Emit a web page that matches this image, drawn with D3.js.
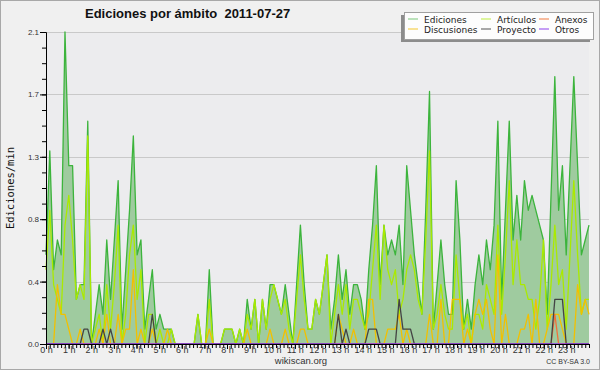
<!DOCTYPE html>
<html>
<head>
<meta charset="utf-8">
<script src="https://cdn.jsdelivr.net/npm/d3@7"></script>
<style>
  body { margin: 0; background: #fff; }
  svg text { font-family: "Liberation Sans", Arial, sans-serif; }
</style>
</head>
<body>
<div id="chart"></div>
<script>
// edits per minute, one value every 10 minutes (0 h .. 23:50)
const ediciones = [
  0.6,1.3,0.5,0.7,0.6,2.1,1.2,1.2,0.3,0.4,0.4,1.5,
  0.0,0.2,0.4,0.2,0.7,0.3,0.7,1.1,0.1,0.5,0.9,1.4,
  0.6,0.7,0.1,0.3,0.5,0.1,0.2,0.1,0.1,0.1,0,0,
  0,0,0,0,0.2,0,0,0.5,0,0,0,0.1,
  0.1,0.1,0,0.1,0,0.3,0.1,0.3,0,0.3,0.1,0.4,
  0.4,0.3,0.2,0.4,0.2,0,0.4,0.8,0.4,0.1,0.1,0.3,
  0.2,0.4,0.6,0.1,0.3,0.6,0.3,0.5,0.2,0.4,0.4,0.3,
  0.1,0.5,0.8,1.2,0.4,0.8,0.6,0.7,0.6,0.8,0.4,1.2,
  0.9,0.6,0.4,0.2,0.9,1.7,0.1,0.4,0.7,0.4,0.2,0.2,
  1.1,0.7,0.1,0.3,0.1,0.4,0.6,0.4,0.7,0.5,0.8,1.5,
  0.3,0.9,1.5,0.7,1.0,0.7,1.1,0.9,1.0,0.9,0.8,0.7,
  0.2,1.0,1.8,0.9,1.2,0.6,1.2,1.8,1.2,0.6,0.7,0.8
];
const articulos = [
  0.5,0.9,0.4,0.3,0.2,0.8,1.0,0.7,0.3,0.4,0.3,1.4,
  0.0,0.1,0.2,0.0,0.4,0.1,0.4,0.8,0.0,0.2,0.6,0.8,
  0.3,0.5,0.0,0.2,0.2,0.0,0.1,0.0,0.0,0.1,0,0,
  0,0,0,0,0.2,0,0,0.3,0,0,0,0.1,
  0.1,0.1,0,0.1,0,0.2,0.1,0.3,0,0.3,0.1,0.3,
  0.4,0.3,0.2,0.3,0.1,0,0.3,0.6,0.3,0.1,0.1,0.3,
  0.2,0.4,0.6,0.0,0.2,0.4,0.2,0.4,0.1,0.3,0.3,0.2,
  0.1,0.2,0.5,0.8,0.3,0.8,0.5,0.4,0.5,0.2,0.3,0.5,
  0.6,0.5,0.3,0.2,0.7,1.3,0.1,0.2,0.4,0.2,0.1,0.1,
  0.6,0.3,0.1,0.2,0.0,0.2,0.2,0.1,0.4,0.3,0.2,0.8,
  0.2,0.6,1.1,0.4,0.7,0.4,0.4,0.3,0.3,0.1,0.3,0.7,
  0.1,0.4,0.8,0.4,0.5,0.1,0.6,1.1,0.6,0.2,0.3,0.3
];
const discusiones = [
  0,0,0,0.4,0.2,0.2,0.1,0,0,0.1,0,0,
  0,0,0.1,0,0.2,0,0,0.2,0,0.1,0.1,0.5,
  0,0.1,0,0,0.1,0,0,0,0.1,0,0,0,
  0,0,0,0,0,0,0,0.1,0,0,0,0,
  0,0,0,0,0,0.1,0,0,0,0,0,0.1,
  0,0,0,0.1,0,0,0,0.1,0.1,0,0,0,
  0,0,0,0,0,0.2,0.1,0,0,0.1,0,0,
  0,0.3,0.3,0,0,0,0.1,0.1,0.1,0.2,0,0.1,
  0,0,0,0,0,0.2,0,0,0.3,0,0,0.3,
  0.3,0.3,0,0.1,0,0.2,0.3,0.2,0.3,0.1,0,0.6,
  0,0.2,0,0,0,0.1,0.1,0.2,0,0.3,0,0,
  0.1,0.2,0.2,0.2,0.1,0,0,0,0.4,0.2,0.3,0.2
];
const proyecto = [
  0,0,0,0,0,0,0,0,0,0,0.1,0.1,
  0,0,0,0.1,0,0.1,0,0,0,0,0,0,
  0,0,0,0,0.2,0,0,0,0,0,0,0,
  0,0,0,0,0,0,0,0,0,0,0,0,
  0,0,0,0,0,0,0,0,0,0,0,0,
  0,0,0,0,0,0,0,0,0,0,0,0,
  0,0,0,0,0,0.2,0,0.1,0,0,0,0,
  0,0.1,0.1,0.1,0,0,0,0,0,0.3,0.1,0.1,
  0.1,0,0,0,0,0,0,0,0,0,0,0,
  0,0,0,0,0,0,0,0,0,0,0,0,
  0,0,0,0,0,0,0,0,0,0,0,0,
  0,0,0.3,0.3,0.3,0,0,0,0,0,0,0
];
const anexos = [
  0,0,0,0,0,0,0,0,0,0,0,0,
  0,0,0,0,0,0,0,0,0,0,0,0,
  0,0,0,0,0,0,0,0,0,0,0,0,
  0,0,0,0,0,0,0,0,0,0,0,0,
  0,0,0,0,0,0,0,0,0,0,0,0,
  0,0,0,0,0,0,0,0,0,0,0,0,
  0,0,0,0,0,0,0,0,0,0,0,0,
  0,0,0,0,0,0,0,0,0,0,0,0,
  0,0,0,0,0,0,0,0,0,0,0,0,
  0,0,0,0,0,0,0,0,0,0,0,0,
  0,0,0,0,0,0,0,0,0,0,0,0,
  0,0,0.2,0,0,0,0,0,0,0,0,0
];
const otros = [
  0,0,0,0,0,0,0,0,0,0,0,0,
  0,0,0,0,0,0,0,0,0,0,0,0,
  0,0,0,0,0,0,0,0,0,0,0,0,
  0,0,0,0,0,0,0,0,0,0,0,0,
  0,0,0,0,0,0,0,0,0,0,0,0,
  0,0,0,0,0,0,0,0,0,0,0,0,
  0,0,0,0,0,0,0,0,0,0,0,0,
  0,0,0,0,0,0,0,0,0,0,0,0,
  0,0,0,0,0,0,0,0,0,0,0,0,
  0,0,0,0,0,0,0,0,0,0,0,0,
  0,0,0,0,0,0,0,0,0,0,0,0,
  0,0,0,0,0,0,0,0,0,0,0,0
];

const hours = d3.range(0, 24);
const yTicks = [0, 0.42, 0.84, 1.26, 1.68, 2.1];
const yTickLabels = ['0.0', '0.4', '0.8', '1.3', '1.7', '2.1'];

const series = [
  {name: 'Ediciones',   values: ediciones,   color: '#3cb43c', key: '#8fd08f'},
  {name: 'Artículos',   values: articulos,   color: '#aaea00', key: '#c8f060'},
  {name: 'Anexos',      values: anexos,      color: '#f2703a', key: '#f39060'},
  {name: 'Discusiones', values: discusiones, color: '#f2c000', key: '#f5d050'},
  {name: 'Proyecto',    values: proyecto,    color: '#444444', key: '#707070'},
  {name: 'Otros',       values: otros,       color: '#9040e8', key: '#a060f0'}
];
// lines drawn over the area in this order
const drawOrder = ['Ediciones', 'Artículos', 'Discusiones', 'Anexos', 'Proyecto', 'Otros'];

const W = 600, H = 370;
const plot = {left: 46, right: 589, top: 32, bottom: 344};

const svg = d3.select('#chart').append('svg')
  .attr('width', W)
  .attr('height', H);

svg.append('rect')
  .attr('x', 0.5).attr('y', 0.5)
  .attr('width', W - 1).attr('height', H - 1)
  .attr('fill', '#f0f0f0')
  .attr('stroke', '#a8a8a8');

svg.append('rect')
  .attr('x', plot.left).attr('y', plot.top)
  .attr('width', plot.right - plot.left).attr('height', plot.bottom - plot.top)
  .attr('fill', '#ececee');

const x = d3.scaleLinear().domain([0, ediciones.length - 1]).range([plot.left, plot.right]);
const xh = d3.scaleLinear().domain([0, 24]).range([plot.left, plot.right]);
const y = d3.scaleLinear().domain([0, 2.1]).range([plot.bottom, plot.top]);

// grid
svg.append('g')
  .selectAll('line')
  .data(yTicks.slice(1))
  .join('line')
  .attr('x1', plot.left).attr('x2', plot.right)
  .attr('y1', d => Math.round(y(d)) + 0.5).attr('y2', d => Math.round(y(d)) + 0.5)
  .attr('stroke', '#c9c9c9');

// area + lines
const area = d3.area()
  .x((d, i) => x(i))
  .y0(y(0))
  .y1(d => y(d));
svg.append('path')
  .datum(ediciones)
  .attr('d', area)
  .attr('fill', '#9fcb9f');

const line = d3.line()
  .x((d, i) => x(i))
  .y(d => y(d));
for (const name of drawOrder) {
  const s = series.find(s => s.name === name);
  svg.append('path')
    .datum(s.values)
    .attr('d', line)
    .attr('fill', 'none')
    .attr('stroke', s.color)
    .attr('stroke-width', 1.3)
    .attr('stroke-linejoin', 'round');
}

// axes
const styleAxis = g => {
  g.select('.domain').attr('stroke', '#000');
  g.selectAll('.tick line').attr('stroke', '#000');
  g.selectAll('.tick text').attr('fill', '#333').style('font-family', '"Liberation Sans", Arial, sans-serif');
};

svg.append('g')
  .attr('transform', `translate(0,${plot.bottom})`)
  .call(d3.axisBottom(xh).tickValues(d3.range(0, 24 * 6 + 1).map(d => d / 6)).tickSize(4).tickSizeOuter(0).tickFormat(''))
  .call(styleAxis);
svg.append('g')
  .attr('transform', `translate(0,${plot.bottom})`)
  .call(d3.axisBottom(xh).tickValues(hours).tickSize(5).tickSizeOuter(0).tickPadding(0).tickFormat(d => d + ' h'))
  .call(styleAxis)
  .call(g => g.selectAll('.tick text').attr('font-size', 9).attr('dy', '0.72em').attr('y', 3));

svg.append('g')
  .attr('transform', `translate(${plot.left},0)`)
  .call(d3.axisLeft(y).tickValues(d3.range(0, 21).map(d => d * 0.105)).tickSize(4).tickSizeOuter(0).tickFormat(''))
  .call(styleAxis);
svg.append('g')
  .attr('transform', `translate(${plot.left},0)`)
  .call(d3.axisLeft(y).tickValues(yTicks).tickSize(6).tickSizeOuter(0).tickPadding(1)
    .tickFormat((d, i) => yTickLabels[i]))
  .call(styleAxis)
  .call(g => g.selectAll('.tick text').attr('font-size', 8));

// titles
svg.append('text')
  .attr('x', 85).attr('y', 18)
  .attr('font-size', 13)
  .attr('font-weight', 'bold')
  .attr('fill', '#111')
  .style('white-space', 'pre')
  .text('Ediciones por ámbito  2011-07-27');

svg.append('text')
  .attr('transform', `translate(14,${(plot.top + plot.bottom) / 2}) rotate(-90)`)
  .attr('text-anchor', 'middle')
  .style('font-family', '"DejaVu Sans Mono", monospace')
  .attr('font-size', 10.5)
  .attr('fill', '#111')
  .text('Ediciones/min');

svg.append('text')
  .attr('x', 301).attr('y', 364)
  .attr('text-anchor', 'middle')
  .attr('font-size', 9.5)
  .attr('fill', '#333')
  .text('wikiscan.org');

svg.append('text')
  .attr('x', 590).attr('y', 364)
  .attr('text-anchor', 'end')
  .attr('font-size', 7)
  .attr('fill', '#333')
  .text('CC BY-SA 3.0');

// legend
const legend = svg.append('g').attr('transform', 'translate(404,12)');
legend.append('rect')
  .attr('x', -3).attr('y', 3).attr('width', 189).attr('height', 27)
  .attr('fill', '#8c8c8c');
legend.append('rect')
  .attr('x', 0.5).attr('y', 0.5).attr('width', 189).attr('height', 27)
  .attr('fill', '#fdfdfd')
  .attr('stroke', '#a0a0a0');

const colX = [4, 77, 135];
const items = legend.selectAll('g.item')
  .data(series)
  .join('g')
  .attr('class', 'item')
  .attr('transform', (d, i) => `translate(${colX[i % 3]},${i < 3 ? 7 : 17})`);
items.append('line')
  .attr('x1', 0).attr('x2', 10)
  .attr('stroke', d => d.key)
  .attr('stroke-width', 1.2);
items.append('text')
  .attr('x', 16).attr('y', 3.5)
  .style('font-family', '"DejaVu Sans", sans-serif')
  .attr('font-size', 9)
  .attr('fill', '#222')
  .text(d => d.name);
</script>
</body>
</html>
